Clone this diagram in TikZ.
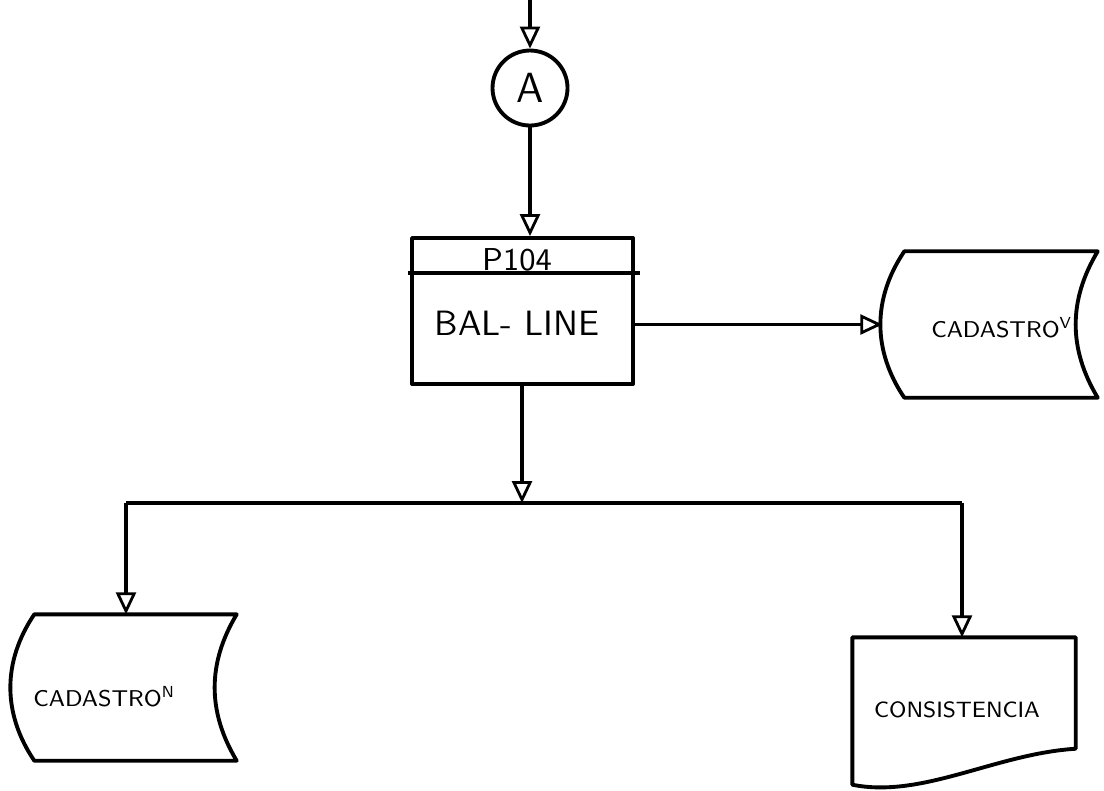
\documentclass[tikz,border=0pt]{standalone}
\usepackage{tikz}
\usetikzlibrary{arrows.meta, positioning, calc}

\begin{document}
\begin{tikzpicture}[font=\sffamily,
  shp/.style={line width=1.1pt, line join=round},
  conn/.style={-{Triangle[open, length=2.2mm, width=2mm, line width=0.8pt]}, line width=0.9pt},
  frame/.style={minimum width=#1, inner sep=0pt},
  lbl/.style={inner sep=1pt, align=center}]
  \useasboundingbox (0,0) rectangle (11.04,-7.90);
  % connector and process box
  \coordinate (top) at (5.30,0);
  \node[shp, draw, circle, minimum size=0.75cm, inner sep=0pt, font=\sffamily\large] (a) at (5.30,-0.88) {A};
  \node[shp, draw, rectangle, minimum width=2.21cm, minimum height=1.46cm] (bal) at (5.225,-3.11) {};
  \draw[shp] ([xshift=-0.2mm, yshift=-3.7mm]bal.north west) -- ([xshift=0.5mm, yshift=-3.7mm]bal.north east);
  \node[lbl, font=\sffamily\small] (p104) at (5.17,-2.60) {P104};
  \node[lbl, font=\sffamily\normalsize] (balline) at (5.17,-3.23) {BAL- LINE};
  % files
  \node[frame=2.14cm, minimum height=1.45cm] (cadv) at (9.90,-3.245) {};
  \node[frame=2.23cm, minimum height=1.45cm] (cadn) at (1.245,-6.875) {};
  \foreach \s in {cadv, cadn} {
    \draw[shp] ([xshift=2.2mm]\s.north west) -- (\s.north east)
      to[bend right=31] (\s.south east)
      -- ([xshift=2.2mm]\s.south west)
      to[bend left=34] ([xshift=2.2mm]\s.north west) -- cycle;
  }
  \node[lbl, font=\sffamily\fontsize{6.5}{8}\selectfont] (cadvtxt) at ([xshift=1.2mm, yshift=-0.3mm]cadv.center) {CADASTRO\textsuperscript{V}};
  \node[lbl, font=\sffamily\fontsize{6.5}{8}\selectfont] (cadntxt) at ([xshift=-2.0mm, yshift=-0.9mm]cadn.center) {CADASTRO\textsuperscript{N}};
  % report
  \node[frame=2.22cm, minimum height=1.10cm] (cons) at (9.64,-6.93) {};
  \draw[shp] (cons.north west) -- (cons.north east) -- (cons.south east)
    .. controls ([xshift=-8mm, yshift=-0.5mm]cons.south east) and ([xshift=7mm, yshift=-5mm]cons.south west)
    .. ([yshift=-3.6mm]cons.south west) -- cycle;
  \node[lbl, font=\sffamily\fontsize{6.3}{8}\selectfont] (constxt) at ([xshift=-0.7mm, yshift=-1.7mm]cons.center) {CONSISTENCIA};
  % flow lines
  \coordinate (j) at (5.22,-5.03);
  \coordinate (jl) at (1.26,-5.03);
  \coordinate (jr) at (9.62,-5.03);
  \draw[conn] (top) -- (a.north);
  \draw[conn] (a.south) -- (a.south |- bal.north);
  \draw[conn] (cadv.west -| bal.east) -- (cadv.west);
  \draw[conn] (bal.south -| j) -- (j);
  \draw[shp] (jl) -- (jr);
  \draw[conn] (jl) -- (jl |- cadn.north);
  \draw[conn] (jr) -- (jr |- cons.north);
\end{tikzpicture}
\end{document}
